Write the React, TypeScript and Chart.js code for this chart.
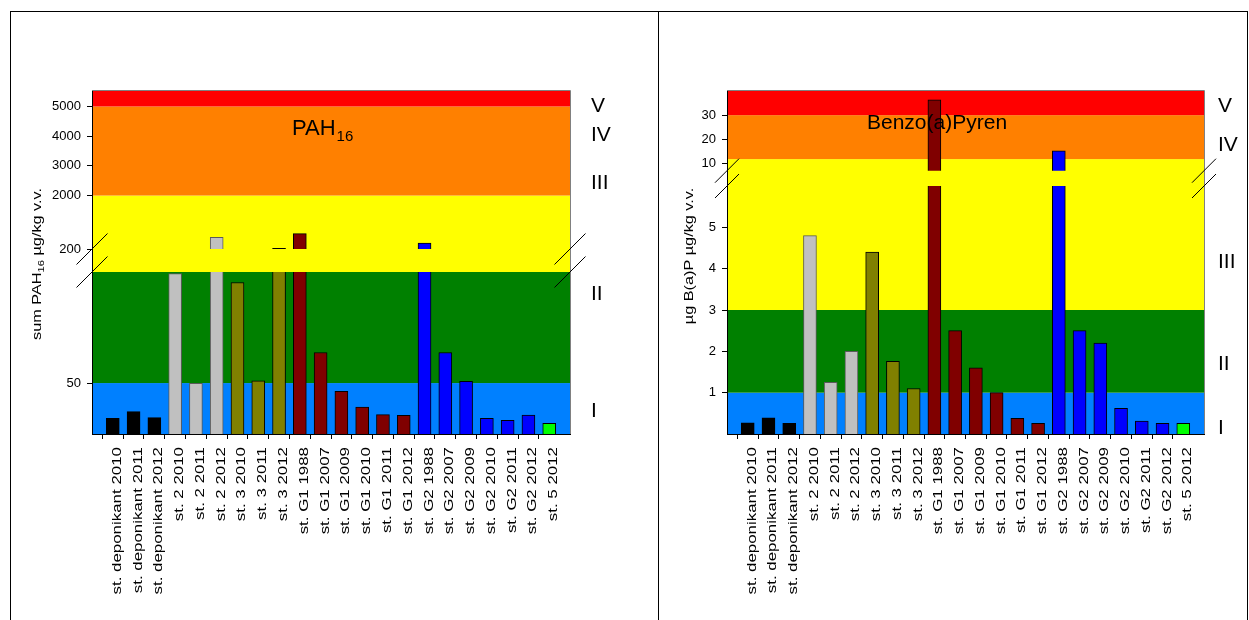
import React, { useEffect, useRef } from 'react';
import { Chart, registerables } from 'chart.js';

Chart.register(...registerables);

const categories = [
  'st. deponikant 2010', 'st. deponikant 2011', 'st. deponikant 2012',
  'st. 2 2010', 'st. 2 2011', 'st. 2 2012',
  'st. 3 2010', 'st. 3 2011', 'st. 3 2012',
  'st. G1 1988', 'st. G1 2007', 'st. G1 2009', 'st. G1 2010', 'st. G1 2011', 'st. G1 2012',
  'st. G2 1988', 'st. G2 2007', 'st. G2 2009', 'st. G2 2010', 'st. G2 2011', 'st. G2 2012',
  'st. 5 2012',
];

const pahValues = [15.4, 22, 16, 157.5, 49.7, 590, 148.7, 52.3, 220, 715, 80, 41.8, 26.5, 19, 18.3, 402, 80, 51.6, 15.4, 13.4, 18.6, 10.5];
const bapValues = [0.27, 0.39, 0.26, 4.8, 1.25, 2.0, 4.4, 1.76, 1.1, 36.3, 2.5, 1.6, 1.0, 0.38, 0.26, 15.2, 2.5, 2.2, 0.62, 0.31, 0.26, 0.26];

const barColors = [
  '#000000', '#000000', '#000000',
  '#c0c0c0', '#c0c0c0', '#c0c0c0',
  '#808000', '#808000', '#808000',
  '#800000', '#800000', '#800000', '#800000', '#800000', '#800000',
  '#0000ff', '#0000ff', '#0000ff', '#0000ff', '#0000ff', '#0000ff',
  '#00ff00',
];
const barBorderColors = barColors.map((c) => (c === '#c0c0c0' ? '#5a5a5a' : '#000000'));

const pahTicks = [50, 200, 2000, 3000, 4000, 5000];
const bapTicks = [1, 2, 3, 4, 5, 10, 20, 30];

const classNames = ['I', 'II', 'III', 'IV', 'V'];
const classColors = ['#0080ff', '#008000', '#ffff00', '#ff8000', '#ff0000'];
const pahClassLimits = [50, 159, 2000, 5000];
const bapClassLimits = [1, 3, 11.8, 30];

const FONT = '"Liberation Sans", Arial, sans-serif';

type AxisBreak = { lowMax: number; lowSpan: number; highMin: number; highMax: number; highStart: number; total: number };

function makeMapper(a: AxisBreak) {
  return (v: number) => {
    if (v <= a.lowMax) return (v / a.lowMax) * a.lowSpan;
    if (v >= a.highMin) return a.highStart + ((v - a.highMin) / (a.highMax - a.highMin)) * (a.total - a.highStart);
    return a.lowSpan + ((v - a.lowMax) / (a.highMin - a.lowMax)) * (a.highStart - a.lowSpan);
  };
}

const pahSpec = {
  values: pahValues,
  ticks: pahTicks,
  limits: pahClassLimits,
  axis: { lowMax: 159, lowSpan: 162, highMin: 200, highMax: 5520, highStart: 185, total: 343 },
  title: ['PAH', '16'],
  titleX: 292, titleY: 135, titleFont: 22,
  yTitle: [['sum PAH', false], ['16', true], [' µg/kg v.v.', false]] as [string, boolean][],
  yTitleX: 41, yTitleY: 264,
  padRight: 80, yWidth: 92,
  classX: 591, classY: [417, 300, 189, 141, 112],
  breakHalf: 15.5,
};

const bapSpec = {
  values: bapValues,
  ticks: bapTicks,
  limits: bapClassLimits,
  axis: { lowMax: 6, lowSpan: 248, highMin: 7, highMax: 40, highStart: 263.3, total: 343 },
  title: ['Benzo(a)Pyren', ''],
  titleX: 217, titleY: 129, titleFont: 21,
  yTitle: [['µg B(a)P µg/kg v.v.', false]] as [string, boolean][],
  yTitleX: 43, yTitleY: 256,
  padRight: 45, yWidth: 77,
  classX: 568, classY: [434, 370, 268, 151, 112],
  breakHalf: 12,
};

type Spec = typeof pahSpec;

function drawBands(chart: any, spec: Spec, toD: (v: number) => number) {
  const ctx = chart.ctx;
  const { left, right, top, bottom } = chart.chartArea;
  const y = chart.scales.y;
  const bounds = [0, ...spec.limits.map(toD), spec.axis.total];
  for (let i = 0; i < classColors.length; i++) {
    const y0 = y.getPixelForValue(bounds[i]);
    const y1 = y.getPixelForValue(bounds[i + 1]);
    ctx.fillStyle = classColors[i];
    const yt = Math.max(top, Math.min(y0, y1));
    const yb = Math.min(bottom, Math.max(y0, y1));
    ctx.fillRect(left, yt, right - left, yb - yt);
  }
}

function makeConfig(spec: Spec): any {
  const toD = makeMapper(spec.axis);
  const labels = ['', ...categories, ''];
  const data = [null, ...spec.values.map(toD), null];
  const bg = ['transparent', ...barColors, 'transparent'];
  const bc = ['transparent', ...barBorderColors, 'transparent'];

  const plugin = {
    id: 'brokenAxis',
    beforeDraw(chart: any) {
      drawBands(chart, spec, toD);
    },
    afterDatasetsDraw(chart: any) {
      const ctx = chart.ctx;
      const { left, right } = chart.chartArea;
      const y = chart.scales.y;
      const gTop = y.getPixelForValue(spec.axis.highStart);
      const gBot = y.getPixelForValue(spec.axis.lowSpan);
      ctx.save();
      ctx.beginPath();
      ctx.rect(left + 1, gTop, right - left - 1, gBot - gTop);
      ctx.clip();
      drawBands(chart, spec, toD);
      ctx.restore();
    },
    afterDraw(chart: any) {
      const ctx = chart.ctx;
      const { left, right, top, bottom } = chart.chartArea;
      const y = chart.scales.y;
      const xs = chart.scales.x;
      ctx.save();
      ctx.strokeStyle = '#808080';
      ctx.lineWidth = 1;
      ctx.beginPath();
      ctx.moveTo(left, top - 0.5);
      ctx.lineTo(right + 0.5, top - 0.5);
      ctx.lineTo(right + 0.5, bottom);
      ctx.stroke();

      const gTop = y.getPixelForValue(spec.axis.highStart);
      const gBot = y.getPixelForValue(spec.axis.lowSpan);
      const h = spec.breakHalf;
      ctx.strokeStyle = '#000';
      ctx.lineWidth = 1;
      for (const bx of [left, right]) {
        for (const by of [gTop, gBot]) {
          ctx.beginPath();
          ctx.moveTo(bx - h, by + h);
          ctx.lineTo(bx + h, by - h);
          ctx.stroke();
        }
      }

      ctx.fillStyle = '#000';
      ctx.textAlign = 'left';
      ctx.textBaseline = 'alphabetic';
      ctx.font = `${spec.titleFont}px ${FONT}`;
      ctx.fillText(spec.title[0], spec.titleX, spec.titleY);
      if (spec.title[1]) {
        const w = ctx.measureText(spec.title[0]).width;
        ctx.font = `15px ${FONT}`;
        ctx.fillText(spec.title[1], spec.titleX + w + 1, spec.titleY + 6);
      }

      ctx.font = `21px ${FONT}`;
      classNames.forEach((n, i) => {
        ctx.fillText(n, spec.classX, spec.classY[i]);
      });

      ctx.font = `13px ${FONT}`;
      categories.forEach((c, i) => {
        const x = xs.getPixelForValue(i + 1);
        ctx.save();
        ctx.translate(x + 8, 447);
        ctx.rotate(-Math.PI / 2);
        ctx.scale(1.3, 1);
        ctx.textAlign = 'right';
        ctx.fillText(c, 0, 0);
        ctx.restore();
      });

      const stretch = 1.25;
      const mainSize = 13;
      const subSize = 9;
      const parts = spec.yTitle.map(([t, sub]) => {
        ctx.font = `${sub ? subSize : mainSize}px ${FONT}`;
        return { t, sub, w: ctx.measureText(t).width * stretch };
      });
      const total = parts.reduce((s, p) => s + p.w, 0);
      ctx.save();
      ctx.translate(spec.yTitleX, spec.yTitleY);
      ctx.rotate(-Math.PI / 2);
      let pos = -total / 2;
      for (const p of parts) {
        ctx.save();
        ctx.font = `${p.sub ? subSize : mainSize}px ${FONT}`;
        ctx.translate(pos, p.sub ? 3 : 0);
        ctx.scale(stretch, 1);
        ctx.textAlign = 'left';
        ctx.fillText(p.t, 0, 0);
        ctx.restore();
        pos += p.w;
      }
      ctx.restore();
      ctx.restore();
    },
  };

  return {
    type: 'bar',
    data: {
      labels,
      datasets: [
        {
          data,
          backgroundColor: bg,
          borderColor: bc,
          borderWidth: 1,
          barThickness: 13,
        },
      ],
    },
    options: {
      responsive: false,
      animation: false,
      devicePixelRatio: 1,
      layout: { padding: { left: 0, right: spec.padRight, top: 91, bottom: 0 } },
      plugins: { legend: { display: false }, tooltip: { enabled: false }, title: { display: false } },
      scales: {
        x: {
          type: 'category',
          offset: false,
          afterFit: (s: any) => { s.height = 186; },
          grid: {
            display: true,
            drawOnChartArea: false,
            drawTicks: true,
            tickLength: 5,
            color: (c: any) => (c.index === 0 || c.index === labels.length - 1 ? 'rgba(0,0,0,0)' : '#000'),
            tickColor: (c: any) => (c.index === 0 || c.index === labels.length - 1 ? 'rgba(0,0,0,0)' : '#000'),
          },
          border: { display: true, color: '#000', width: 1 },
          ticks: { display: false, autoSkip: false },
        },
        y: {
          type: 'linear',
          min: 0,
          max: spec.axis.total,
          afterFit: (s: any) => { s.width = spec.yWidth; },
          afterBuildTicks: (s: any) => {
            s.ticks = spec.ticks.map((v) => ({ value: toD(v) }));
          },
          grid: { display: true, drawOnChartArea: false, tickLength: 5, color: '#000' },
          border: { display: true, color: '#000', width: 1 },
          ticks: {
            autoSkip: false,
            padding: 6,
            color: '#000',
            font: { family: FONT, size: 13 },
            callback: (_v: any, i: number) => String(spec.ticks[i]),
          },
        },
      },
    },
    plugins: [plugin],
  };
}

export default function App() {
  const leftRef = useRef<HTMLCanvasElement>(null);
  const rightRef = useRef<HTMLCanvasElement>(null);

  useEffect(() => {
    const c1 = new Chart(leftRef.current as HTMLCanvasElement, makeConfig(pahSpec));
    const c2 = new Chart(rightRef.current as HTMLCanvasElement, makeConfig(bapSpec));
    return () => {
      c1.destroy();
      c2.destroy();
    };
  }, []);

  const line = (s: React.CSSProperties): React.CSSProperties => ({ position: 'absolute', background: '#000', ...s });

  return (
    <div style={{ position: 'fixed', left: 0, top: 0, width: 1249, height: 620, background: '#fff', overflow: 'hidden' }}>
      <canvas ref={leftRef} width={650} height={620} style={{ position: 'absolute', left: 0, top: 0 }} />
      <canvas ref={rightRef} width={599} height={620} style={{ position: 'absolute', left: 650, top: 0 }} />
      <div style={line({ left: 10, top: 11, width: 1238, height: 1 })} />
      <div style={line({ left: 10, top: 11, width: 1, height: 609 })} />
      <div style={line({ left: 658, top: 11, width: 1, height: 609 })} />
      <div style={line({ left: 1247, top: 11, width: 1, height: 609 })} />
    </div>
  );
}
